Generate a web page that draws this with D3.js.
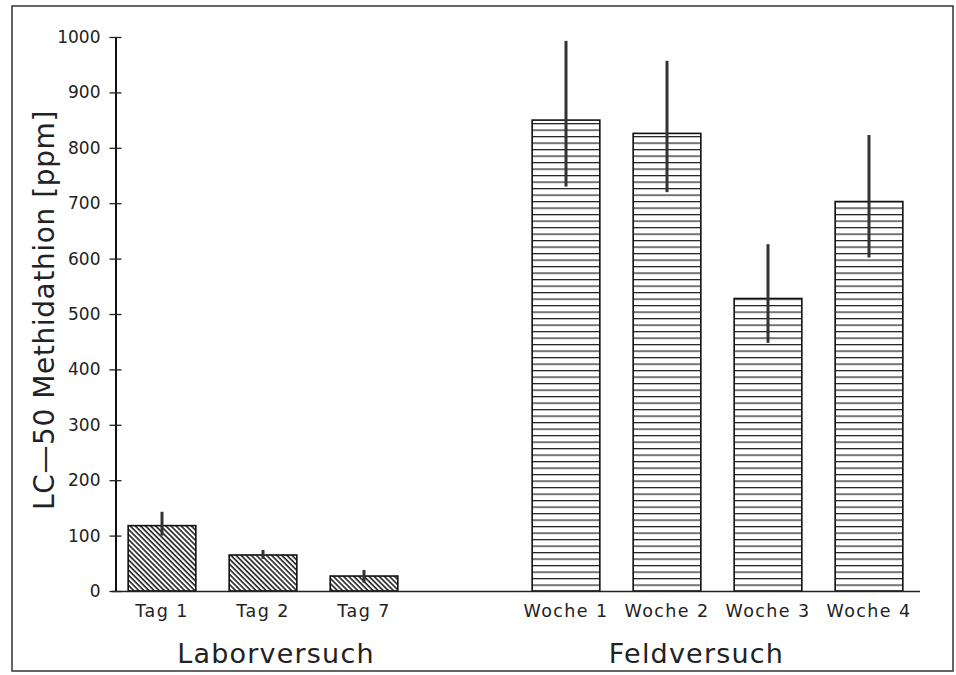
<!DOCTYPE html>
<html>
<head>
<meta charset="utf-8">
<script src="https://cdn.jsdelivr.net/npm/d3@7"></script>
<style>
  body { margin: 0; background: #fff; }
  text { font-family: "DejaVu Sans", sans-serif; fill: #222; }
</style>
</head>
<body>
<svg id="drawing_region"></svg>
<script>
// values
const categories = ["Tag 1", "Tag 2", "Tag 7", "Woche 1", "Woche 2", "Woche 3", "Woche 4"];
const groups = ["Labor", "Labor", "Labor", "Feld", "Feld", "Feld", "Feld"];
const values = [118, 65, 27, 850, 826, 528, 703];
const errLow = [100, 58, 15, 730, 720, 448, 602];
const errHigh = [143, 74, 38, 993, 957, 626, 823];
const groupTitles = { Labor: "Laborversuch", Feld: "Feldversuch" };
const yTicks = [0, 100, 200, 300, 400, 500, 600, 700, 800, 900, 1000];
const yTitle = "LC\u201450 Methidathion [ppm]";

const width = 956, height = 675;
const x0 = 111.5, x1 = 919.5, yTop = 37, yBottom = 591;

const data = categories.map((c, i) => ({
    cat: c, group: groups[i], value: values[i], lo: errLow[i], hi: errHigh[i]
}));

const svg = d3.select('#drawing_region')
    .attr('width', width)
    .attr('height', height);

// frame round the figure
svg.append('rect')
    .attr('x', 12).attr('y', 6)
    .attr('width', 941).attr('height', 665)
    .attr('fill', 'none')
    .attr('stroke', '#333')
    .attr('stroke-width', 1.5);

const defs = svg.append('defs');
// diagonal hatch for the lab bars
const diag = defs.append('pattern')
    .attr('id', 'diag')
    .attr('patternUnits', 'userSpaceOnUse')
    .attr('width', 3.6).attr('height', 3.6)
    .attr('patternTransform', 'rotate(-45)');
diag.append('rect').attr('width', 3.6).attr('height', 3.6).attr('fill', '#fff');
diag.append('line')
    .attr('x1', 1).attr('y1', 0).attr('x2', 1).attr('y2', 3.6)
    .attr('stroke', '#111').attr('stroke-width', 1.5);

// horizontal lines for the field bars
const horiz = defs.append('pattern')
    .attr('id', 'horiz')
    .attr('patternUnits', 'userSpaceOnUse')
    .attr('width', 10).attr('height', 6.5)
    .attr('y', yBottom);
horiz.append('rect').attr('width', 10).attr('height', 6.5).attr('fill', '#fff');
horiz.append('line')
    .attr('x1', 0).attr('y1', 0.6).attr('x2', 10).attr('y2', 0.6)
    .attr('stroke', '#222').attr('stroke-width', 1.3);

// one empty slot between the two experiments
const slots = [...categories.slice(0, 3), "_gap", ...categories.slice(3)];
const xscale = d3.scaleBand()
    .domain(slots)
    .range([x0, x1])
    .paddingInner(0.33)
    .paddingOuter(0.165);

const yscale = d3.scaleLinear()
    .domain([0, 1000])
    .range([yBottom, yTop]);

// bars
svg.append('g').selectAll('rect')
    .data(data)
    .join('rect')
    .attr('x', d => xscale(d.cat))
    .attr('y', d => yscale(d.value))
    .attr('width', xscale.bandwidth())
    .attr('height', d => yscale(0) - yscale(d.value))
    .attr('fill', d => d.group === "Labor" ? 'url(#diag)' : 'url(#horiz)')
    .attr('stroke', '#111')
    .attr('stroke-width', 1.6);

// error bars, no caps
svg.append('g').selectAll('line')
    .data(data)
    .join('line')
    .attr('x1', d => xscale(d.cat) + xscale.bandwidth() / 2)
    .attr('x2', d => xscale(d.cat) + xscale.bandwidth() / 2)
    .attr('y1', d => yscale(d.lo))
    .attr('y2', d => yscale(d.hi))
    .attr('stroke', '#333')
    .attr('stroke-width', 3);

// x axis
const xaxis = d3.axisBottom(xscale)
    .tickValues(categories)
    .tickSize(0)
    .tickPadding(14);
const xg = svg.append('g')
    .attr('transform', `translate(0, ${yBottom})`)
    .call(xaxis);
xg.select('.domain').attr('stroke', '#222').attr('stroke-width', 1.6);
xg.selectAll('text')
    .style('font-family', '"DejaVu Sans", sans-serif')
    .style('font-size', '17.5px')
    .attr('letter-spacing', '1.4px')
    .attr('fill', '#222');

// y axis, ticks crossing the line
const yaxis = d3.axisLeft(yscale)
    .tickValues(yTicks)
    .tickFormat(d3.format('d'))
    .tickSizeInner(6)
    .tickSizeOuter(0)
    .tickPadding(9);
const yg = svg.append('g')
    .attr('transform', `translate(${x0 + 4}, 0)`)
    .call(yaxis);
yg.select('.domain').attr('stroke', '#111').attr('stroke-width', 2);
yg.selectAll('.tick line').attr('x1', -6).attr('x2', 6).attr('stroke', '#222').attr('stroke-width', 1.3);
yg.selectAll('text')
    .style('font-family', '"DejaVu Sans", sans-serif')
    .style('font-size', '17px')
    .attr('fill', '#222');

// group titles under the categories
const groupNudge = { Labor: 13, Feld: -21 };
Object.keys(groupTitles).forEach(g => {
    const members = data.filter(d => d.group === g);
    const cx = d3.mean(members, d => xscale(d.cat) + xscale.bandwidth() / 2);
    svg.append('text')
        .attr('x', cx + groupNudge[g])
        .attr('y', 663)
        .attr('text-anchor', 'middle')
        .style('font-size', '27px')
        .attr('letter-spacing', '1.2px')
        .text(groupTitles[g]);
});

// y axis title
svg.append('text')
    .attr('transform', `translate(54, ${(yTop + yBottom) / 2 - 4}) rotate(-90)`)
    .attr('text-anchor', 'middle')
    .style('font-size', '28px')
    .attr('letter-spacing', '0.6px')
    .text(yTitle);
</script>
</body>
</html>
